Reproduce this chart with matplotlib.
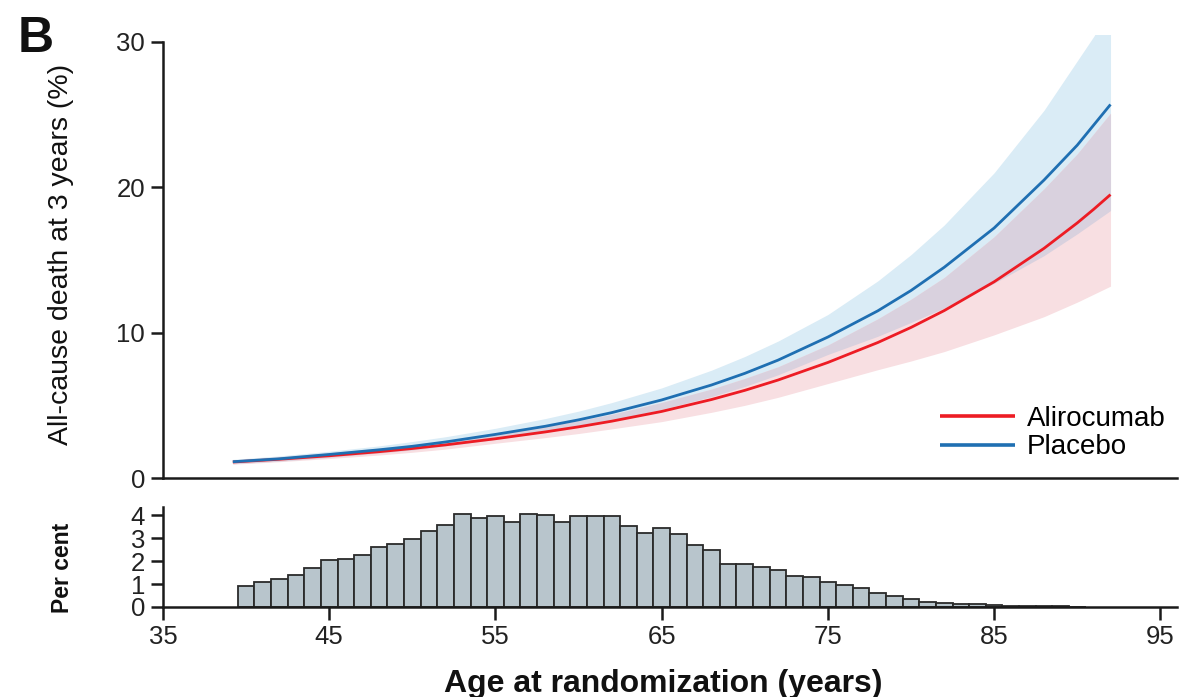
import numpy as np
import matplotlib
matplotlib.use('Agg')
import matplotlib.pyplot as plt

plt.rcParams['font.family'] = ['Liberation Sans', 'DejaVu Sans']

# ---- data ----
age = [39.2, 42, 45, 48, 50, 52, 55, 58, 60, 62, 65, 68, 70, 72, 75, 78, 80, 82, 85, 88, 90, 91, 92]
placebo = [1.12, 1.32, 1.62, 1.94, 2.18, 2.48, 3.0, 3.56, 4.0, 4.5, 5.37, 6.4, 7.2, 8.11, 9.7,
           11.5, 12.9, 14.5, 17.2, 20.5, 22.9, 24.3, 25.7]
placebo_lo = [0.98, 1.16, 1.42, 1.72, 1.93, 2.2, 2.66, 3.15, 3.55, 3.98, 4.72, 5.6, 6.3, 7.1, 8.5,
              9.75, 10.7, 11.7, 13.4, 15.3, 16.8, 17.6, 18.4]
placebo_hi = [1.28, 1.52, 1.84, 2.21, 2.51, 2.84, 3.42, 4.09, 4.6, 5.19, 6.2, 7.42, 8.36, 9.42, 11.25,
              13.56, 15.37, 17.41, 21.0, 25.3, 28.7, 30.4, 32.4]
aliro = [1.10, 1.29, 1.53, 1.81, 2.03, 2.28, 2.70, 3.17, 3.52, 3.91, 4.58, 5.40, 6.03, 6.74, 7.95,
         9.32, 10.36, 11.52, 13.5, 15.8, 17.55, 18.5, 19.5]
aliro_lo = [0.95, 1.12, 1.34, 1.58, 1.77, 1.99, 2.39, 2.78, 3.06, 3.38, 3.88, 4.52, 5.0, 5.55, 6.5,
            7.45, 8.05, 8.7, 9.85, 11.1, 12.1, 12.65, 13.2]
aliro_hi = [1.25, 1.46, 1.74, 2.04, 2.28, 2.55, 3.04, 3.55, 3.94, 4.38, 5.2, 6.12, 6.85, 7.65, 9.15,
            10.95, 12.3, 13.8, 16.6, 19.9, 22.3, 23.7, 25.1]

hist_age = list(range(40, 91))
hist_pct = [0.90, 1.07, 1.22, 1.38, 1.68, 2.03, 2.10, 2.26, 2.59, 2.75,
            2.97, 3.32, 3.58, 4.04, 3.88, 3.94, 3.70, 4.04, 3.99, 3.70,
            3.94, 3.94, 3.94, 3.51, 3.22, 3.45, 3.19, 2.71, 2.49, 1.87,
            1.87, 1.74, 1.61, 1.36, 1.29, 1.07, 0.94, 0.83, 0.59, 0.46,
            0.35, 0.23, 0.16, 0.14, 0.12, 0.09, 0.06, 0.04, 0.04, 0.03, 0.01]

x_ticks = [35, 45, 55, 65, 75, 85, 95]
top_yticks = [0, 10, 20, 30]
bot_yticks = [0, 1, 2, 3, 4]

# ---- styling ----
RED = '#ed1c24'
BLUE = '#1f6fb2'
BLUE_BAND = '#daecf6'
RED_BAND = '#f8dfe2'
OVERLAP = '#d9d1de'
SPINE = '#1a1a1a'
W, H = 1191, 697

fig = plt.figure(figsize=(W / 100, H / 100), dpi=100)

def px_axes(left, top, right, bottom):
    return fig.add_axes([left / W, 1 - bottom / H, (right - left) / W, (bottom - top) / H])

ax = px_axes(163, 34.7, 1177, 478)
axh = px_axes(163, 507, 1177, 607)

a = np.array(age)
plo, phi = np.array(placebo_lo), np.array(placebo_hi)
alo, ahi = np.array(aliro_lo), np.array(aliro_hi)
olo, ohi = np.maximum(plo, alo), np.minimum(phi, ahi)

ax.fill_between(a, plo, phi, color=BLUE_BAND, lw=0)
ax.fill_between(a, alo, ahi, color=RED_BAND, lw=0)
ax.fill_between(a, olo, ohi, where=ohi > olo, color=OVERLAP, lw=0)
ax.plot(a, aliro, color=RED, lw=2.0, label='Alirocumab', solid_capstyle='butt')
ax.plot(a, placebo, color=BLUE, lw=2.0, label='Placebo', solid_capstyle='butt')

ax.set_xlim(35, 96)
ax.set_ylim(0, 30.5)
ax.set_yticks(top_yticks)
ax.set_xticks([])
for s in ['top', 'right']:
    ax.spines[s].set_visible(False)
ax.spines['left'].set_bounds(0, 30)
for s in ['left', 'bottom']:
    ax.spines[s].set_linewidth(1.8)
    ax.spines[s].set_color(SPINE)
ax.tick_params(axis='y', direction='out', length=9, width=1.8, color=SPINE,
               labelsize=18.5, pad=4, labelcolor='#222222')
ax.set_ylabel('All-cause death at 3 years (%)', fontsize=20.5, color='#111111')
ax.yaxis.set_label_coords(-0.088, 0.505)

leg = ax.legend(loc='upper left', bbox_to_anchor=((940 - 163) / 1014, (478 - 406) / 443.3),
                frameon=False, fontsize=20, handlelength=2.7, handletextpad=0.43,
                labelspacing=0.08, borderaxespad=0, borderpad=0)
for line in leg.get_lines():
    line.set_linewidth(2.6)

# histogram
axh.bar(hist_age, hist_pct, width=1.0, color='#b8c5cc', edgecolor='#2a2a2a', linewidth=1.3, align='center')
axh.set_xlim(35, 96)
axh.set_ylim(0, 4.35)
axh.set_yticks(bot_yticks)
axh.set_xticks(x_ticks)
for s in ['top', 'right']:
    axh.spines[s].set_visible(False)
for s in ['left', 'bottom']:
    axh.spines[s].set_linewidth(1.8)
    axh.spines[s].set_color(SPINE)
axh.tick_params(axis='both', direction='out', length=9, width=1.8, color=SPINE,
                labelsize=18.5, pad=4, labelcolor='#222222')
axh.set_ylabel('Per cent', fontsize=16.5, fontweight='bold', color='#111111')
axh.yaxis.set_label_coords(-0.088, 0.39)
axh.set_xlabel('Age at randomization (years)', fontsize=23, fontweight='bold', color='#111111')
axh.xaxis.set_label_coords(0.493, -0.62)

fig.text(18 / W, 1 - 52 / H, 'B', fontsize=36, fontweight='bold', ha='left', va='baseline', color='#111111')

fig.savefig('out.png', dpi=100)
